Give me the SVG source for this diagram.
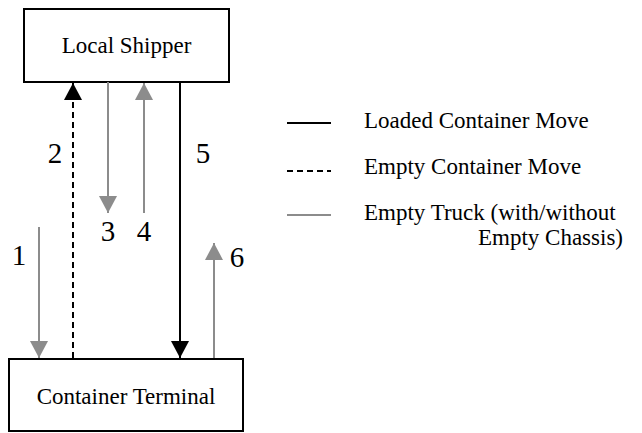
<svg xmlns="http://www.w3.org/2000/svg" width="642" height="433" viewBox="0 0 642 433">
<style>
.box{fill:#fff;stroke:#000;stroke-width:2}
.t{font-family:"Liberation Serif","Times New Roman",serif;font-size:23px;fill:#000}
.n{font-family:"Liberation Serif","Times New Roman",serif;font-size:29px;fill:#000;text-anchor:middle}
.blk{stroke:#000;stroke-width:2;fill:none}
.dash{stroke:#000;stroke-width:2;fill:none;stroke-dasharray:6,4}
.gry{stroke:#8c8c8c;stroke-width:2;fill:none}
</style>
<defs>
<marker id="ab" markerUnits="userSpaceOnUse" markerWidth="18" markerHeight="18" refX="17" refY="9" orient="auto" viewBox="0 0 18 18"><path d="M0,0 L17,9 L0,18 Z" fill="#000"/></marker>
<marker id="ag" markerUnits="userSpaceOnUse" markerWidth="18" markerHeight="18" refX="17" refY="9" orient="auto" viewBox="0 0 18 18"><path d="M0,0 L17,9 L0,18 Z" fill="#8c8c8c"/></marker>
</defs>
<g id="local-shipper">
<rect class="box" x="24" y="9" width="205" height="73"/>
<text class="t" x="126.5" y="53" text-anchor="middle" font-size="24">Local Shipper</text>
</g>
<g id="container-terminal">
<rect class="box" x="9" y="359" width="234" height="72"/>
<text class="t" x="126" y="404" text-anchor="middle" font-size="24">Container Terminal</text>
</g>
<g id="connectors">
<line class="gry" x1="39" y1="227" x2="39" y2="358" marker-end="url(#ag)"/>
<line class="dash" x1="73" y1="358" x2="73" y2="83" marker-end="url(#ab)"/>
<line class="gry" x1="108" y1="82" x2="108" y2="213" marker-end="url(#ag)"/>
<line class="gry" x1="144" y1="213" x2="144" y2="83" marker-end="url(#ag)"/>
<line class="blk" x1="180" y1="82" x2="180" y2="358" marker-end="url(#ab)"/>
<line class="gry" x1="214" y1="358" x2="214" y2="243" marker-end="url(#ag)"/>
<text class="n" x="19" y="265">1</text>
<text class="n" x="55" y="163">2</text>
<text class="n" x="108" y="241">3</text>
<text class="n" x="144" y="241">4</text>
<text class="n" x="203" y="163">5</text>
<text class="n" x="237" y="267">6</text>
</g>
<g id="legend">
<line class="blk" x1="287" y1="123" x2="331" y2="123"/>
<line class="dash" x1="287" y1="171" x2="331" y2="171"/>
<line class="gry" x1="287" y1="215" x2="331" y2="215"/>
<text class="t" x="364" y="128">Loaded Container Move</text>
<text class="t" x="364" y="174">Empty Container Move</text>
<text class="t" x="364" y="220">Empty Truck (with/without</text>
<text class="t" x="623" y="245" text-anchor="end">Empty Chassis)</text>
</g>
</svg>
